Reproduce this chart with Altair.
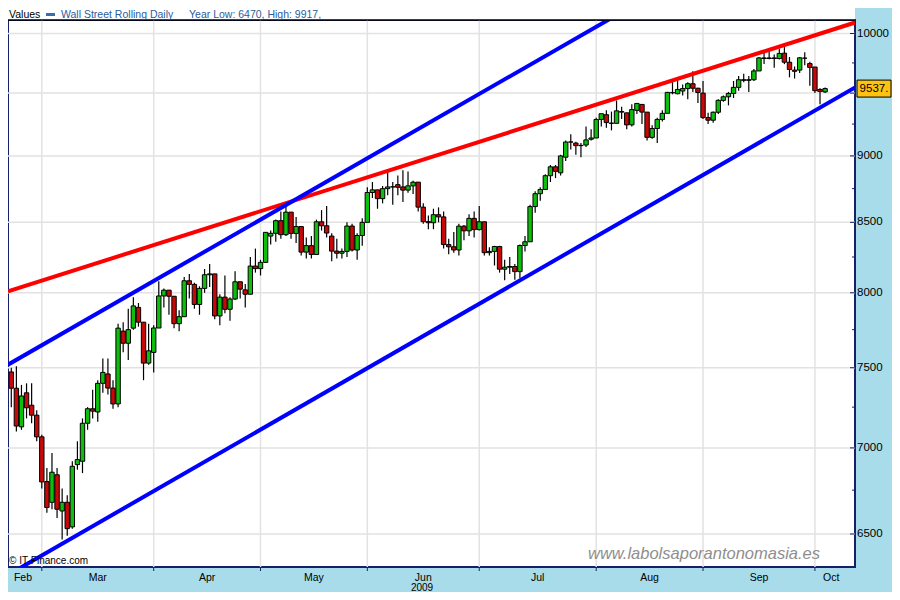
import altair as alt
import pandas as pd

# ---------------- data ----------------
opens = [7473, 7369, 7128, 7340, 7262, 7200,
         7067, 6800, 6680, 6840, 6630, 6680, 6540, 6900, 6920, 7150, 7240, 7220, 7400, 7460, 7370,
         7270, 7740, 7660, 7760, 7900, 7800, 7530,
         7600, 7761, 7978, 8018, 7976, 7790, 7837, 8083, 8058, 7920, 8030, 8125, 8131, 7842, 7970,
         7887, 7957, 8076, 8020, 7990, 8186,
         8168, 8212, 8400, 8420, 8512, 8410, 8575, 8419, 8469, 8285, 8331, 8268, 8504, 8475, 8400,
         8292, 8277, 8290, 8473, 8300, 8404,
         8500, 8721, 8741, 8675, 8750, 8763, 8780, 8763, 8739, 8771, 8799, 8612, 8505, 8497, 8556,
         8540, 8339, 8323, 8300, 8472, 8438, 8529,
         8447, 8504, 8281, 8290, 8325, 8164, 8178, 8183, 8147, 8332, 8359, 8616, 8712, 8744, 8848,
         8916, 8870, 8990, 9108, 9100, 9080, 9085, 9130,
         9140, 9287, 9325, 9258, 9256, 9350, 9340, 9244, 9360, 9408, 9346, 9145, 9215, 9287, 9336,
         9503, 9495, 9517, 9537, 9577, 9540,
         9500, 9302, 9281, 9345, 9441, 9470, 9497, 9547, 9610, 9605, 9610, 9683, 9792, 9787, 9792,
         9787, 9832, 9756, 9690, 9690, 9790, 9745,
         9716, 9530, 9510]
highs = [7500, 7510, 7390, 7400, 7400, 7230,
         7080, 6880, 6970, 6880, 6760, 6720, 6920, 7040, 7180, 7250, 7360, 7420, 7560, 7560, 7420,
         7790, 7800, 7890, 7970, 7930, 7800, 7790,
         7780, 8080, 8030, 8018, 7976, 7880, 8110, 8130, 8070, 8045, 8165, 8200, 8131, 7990, 8120,
         7970, 8150, 8076, 8060, 8250, 8310,
         8230, 8430, 8440, 8520, 8580, 8650, 8575, 8540, 8469, 8390, 8400, 8520, 8590, 8620, 8420,
         8380, 8310, 8500, 8490, 8420, 8530,
         8760, 8800, 8741, 8770, 8880, 8800, 8850, 8890, 8880, 8810, 8799, 8640, 8550, 8600, 8610,
         8580, 8380, 8430, 8490, 8480, 8560, 8580,
         8620, 8504, 8320, 8330, 8330, 8230, 8250, 8200, 8340, 8400, 8630, 8730, 8760, 8860, 8930,
         8930, 9010, 9120, 9170, 9110, 9100, 9230, 9210,
         9300, 9330, 9360, 9350, 9440, 9390, 9340, 9410, 9420, 9410, 9346, 9240, 9300, 9360, 9510,
         9600, 9630, 9570, 9590, 9680, 9544,
         9600, 9340, 9350, 9450, 9480, 9510, 9600, 9640, 9660, 9640, 9700, 9800, 9850, 9850, 9820,
         9870, 9917, 9800, 9720, 9800, 9840, 9760,
         9716, 9540, 9545]
lows = [7250, 7100, 7110, 7180, 7150, 7040,
        6760, 6620, 6640, 6590, 6470, 6490, 6530, 6870, 6850, 7110, 7180, 7160, 7340, 7330, 7240,
        7250, 7600, 7550, 7750, 7770, 7420, 7520,
        7470, 7761, 7900, 7850, 7760, 7740, 7837, 7960, 7890, 7850, 8000, 8040, 7820, 7780, 7860,
        7810, 7950, 7960, 7900, 7990, 8140,
        8120, 8210, 8340, 8360, 8380, 8400, 8380, 8350, 8260, 8240, 8240, 8268, 8440, 8390, 8220,
        8240, 8240, 8250, 8290, 8230, 8330,
        8500, 8680, 8600, 8640, 8700, 8630, 8700, 8650, 8720, 8710, 8580, 8490, 8450, 8450, 8500,
        8310, 8270, 8280, 8260, 8370, 8400, 8390,
        8440, 8260, 8260, 8190, 8140, 8087, 8130, 8090, 8100, 8290, 8359, 8570, 8660, 8740, 8800,
        8830, 8850, 8960, 9050, 9010, 8990, 9070, 9120,
        9140, 9230, 9220, 9200, 9256, 9290, 9210, 9230, 9330, 9250, 9120, 9135, 9100, 9270, 9336,
        9490, 9490, 9480, 9450, 9510, 9420,
        9290, 9250, 9260, 9330, 9430, 9400, 9460, 9520, 9590, 9510, 9600, 9683, 9740, 9780, 9710,
        9779, 9740, 9630, 9620, 9665, 9730, 9560,
        9500, 9410, 9500]
closes = [7369, 7133, 7320, 7246, 7200, 7067,
          6798, 6650, 6855, 6640, 6680, 6530, 6890, 6930, 7150, 7240, 7225, 7400, 7470, 7370, 7270,
          7760, 7660, 7750, 7910, 7800, 7530, 7610,
          7761, 7978, 8018, 7976, 7790, 7837, 8083, 8058, 7920, 8030, 8125, 8131, 7842, 7970, 7887,
          7957, 8076, 8025, 7990, 8186, 8168,
          8212, 8427, 8420, 8512, 8410, 8575, 8419, 8469, 8285, 8331, 8268, 8504, 8475, 8422, 8292,
          8277, 8290, 8473, 8300, 8404, 8500,
          8721, 8741, 8675, 8750, 8763, 8764, 8760, 8739, 8771, 8799, 8612, 8505, 8497, 8556, 8540,
          8339, 8323, 8300, 8472, 8438, 8529, 8447,
          8504, 8281, 8290, 8325, 8164, 8178, 8183, 8147, 8332, 8359, 8616, 8712, 8744, 8848, 8916,
          8881, 9000, 9108, 9109, 9080, 9082, 9125, 9140,
          9287, 9333, 9262, 9256, 9356, 9346, 9244, 9366, 9416, 9346, 9145, 9215, 9287, 9336, 9506,
          9504, 9530, 9537, 9577, 9540, 9505,
          9302, 9281, 9345, 9441, 9470, 9497, 9547, 9610, 9605, 9610, 9683, 9792, 9787, 9792, 9787,
          9830, 9756, 9695, 9680, 9793, 9790, 9712,
          9520, 9513, 9537]

# trading days shown (weekdays, Good Friday closed)
trade_days = [d for d in pd.bdate_range("2009-02-20", "2009-10-05")
              if d != pd.Timestamp("2009-04-10")]
dates = [d.strftime("%Y-%m-%d") for d in trade_days]

month_names = ["Feb", "Mar", "Apr", "May", "Jun", "Jul", "Aug", "Sep", "Oct"]
month_label_pos = [2.3, 17.0, 38.5, 59.5, 81.0, 103.5, 125.5, 147.0, 161.2]
month_starts = [6, 28, 49, 70, 92, 115, 136, 158]

# axis ticks; the 9500 label is hidden behind the last-price box in the reference
y_ticks = [6500, 7000, 7500, 8000, 8500, 9000, 9500, 10000]
y_label_vals = [6500, 7000, 7500, 8000, 8500, 9000, 10000]
y_label_text = ["6500", "7000", "7500", "8000", "8500", "9000", "10000"]
y_minor = [6750, 7250, 7750, 8250, 8750, 9250, 9750]

# trend lines (index, value) end points
red_x = [-0.65, 165.9]
red_y = [8010, 10095]
blue_up_x = [-0.65, 131.5]
blue_up_y = [7520, 10484]
blue_lo_x = [-0.65, 165.9]
blue_lo_y = [6275, 9546]

# ---------------- chart ----------------
n = len(dates)
assert n == len(opens) == len(highs) == len(lows) == len(closes)

df = pd.DataFrame({"i": list(range(n)), "date": dates, "o": opens, "h": highs,
                   "l": lows, "c": closes})
df["dir"] = ["up" if c >= o else "down" for o, c in zip(opens, closes)]

W, H = 847, 547
FONT = "Liberation Sans"
NAVY = "#16206a"
GRID = "#e2e2e2"

xs = alt.Scale(domain=[-0.646, 165.88], nice=False, zero=False, padding=0)
ys = alt.Scale(type="log", domain=[6318, 10117], nice=False, padding=0)

one = pd.DataFrame({"a": [0]})
ytick_df = pd.DataFrame({"v": y_ticks})
ylab_df = pd.DataFrame({"v": y_label_vals, "t": y_label_text})

vgrid = alt.Chart(pd.DataFrame({"m": month_starts})).mark_rule(
    color=GRID, strokeWidth=1.5).encode(x=alt.X("m:Q", scale=xs, axis=None))
hgrid = alt.Chart(ytick_df).mark_rule(color=GRID, strokeWidth=1.5).encode(
    y=alt.Y("v:Q", scale=ys, axis=None))

wicks = alt.Chart(df).mark_rule(color="black", strokeWidth=1.2).encode(
    x=alt.X("i:Q", scale=xs, axis=None),
    y=alt.Y("l:Q", scale=ys, axis=None),
    y2="h:Q")

bodies = alt.Chart(df).mark_bar(size=4.4, stroke="black", strokeWidth=1).encode(
    x=alt.X("i:Q", scale=xs, axis=None),
    y=alt.Y("o:Q", scale=ys, axis=None),
    y2="c:Q",
    color=alt.Color("dir:N", scale=alt.Scale(domain=["up", "down"],
                                             range=["#0dbf0d", "#c80808"]), legend=None))

red_df = pd.DataFrame({"x": red_x, "y": red_y})
blue_df = pd.DataFrame({"x": blue_up_x + blue_lo_x, "y": blue_up_y + blue_lo_y,
                        "g": ["up", "up", "lo", "lo"]})
red_line = alt.Chart(red_df).mark_line(color="#ff0000", strokeWidth=4, clip=True).encode(
    x=alt.X("x:Q", scale=xs, axis=None), y=alt.Y("y:Q", scale=ys, axis=None))
blue_lines = alt.Chart(blue_df).mark_line(color="#0000ff", strokeWidth=4, clip=True).encode(
    x=alt.X("x:Q", scale=xs, axis=None), y=alt.Y("y:Q", scale=ys, axis=None), detail="g:N")

major_ticks = alt.Chart(ytick_df).mark_rule(color=NAVY, strokeWidth=1).encode(
    x=alt.value(W - 5), x2=alt.value(W), y=alt.Y("v:Q", scale=ys, axis=None))
minor_ticks = alt.Chart(pd.DataFrame({"v": y_minor})).mark_rule(color=NAVY, strokeWidth=1).encode(
    x=alt.value(W - 3), x2=alt.value(W), y=alt.Y("v:Q", scale=ys, axis=None))
y_labels = alt.Chart(ylab_df).mark_text(
    font=FONT, fontSize=11.5, color="black", align="left", baseline="middle").encode(
    x=alt.value(W + 2), y=alt.Y("v:Q", scale=ys, axis=None), text="t:N")

month_ticks = alt.Chart(pd.DataFrame({"m": month_starts})).mark_rule(color=NAVY, strokeWidth=1).encode(
    x=alt.X("m:Q", scale=xs, axis=None), y=alt.value(H), y2=alt.value(H + 4))

month_labels = alt.Chart(pd.DataFrame({"p": month_label_pos, "t": month_names})).mark_text(
    font=FONT, fontSize=10.5, color="black", align="center", baseline="middle").encode(
    x=alt.X("p:Q", scale=xs, axis=None), y=alt.value(H + 10.5), text="t:N")

year_label = alt.Chart(pd.DataFrame({"t": ["2009"]})).mark_text(
    font=FONT, fontSize=10, color="black", align="center", baseline="middle").encode(
    x=alt.value(414), y=alt.value(H + 21), text="t:N")

header_bg = alt.Chart(one).mark_rect(color="white").encode(
    x=alt.value(0), x2=alt.value(W), y=alt.value(-12), y2=alt.value(0))
top_line = alt.Chart(one).mark_rule(color="black", strokeWidth=1.5).encode(
    x=alt.value(0), x2=alt.value(W), y=alt.value(0))
swatch = alt.Chart(one).mark_rect(color="#3b6bb0").encode(
    x=alt.value(38), x2=alt.value(47), y=alt.value(-7), y2=alt.value(-4))
values_txt = alt.Chart(pd.DataFrame({"t": ["Values"]})).mark_text(
    font=FONT, fontSize=10.5, color="black", align="left", baseline="middle").encode(
    x=alt.value(1), y=alt.value(-5.5), text="t:N")
series_txt = alt.Chart(pd.DataFrame({"t": ["Wall Street Rolling Daily"]})).mark_text(
    font=FONT, fontSize=10.5, color="#2b5c9e", align="left", baseline="middle").encode(
    x=alt.value(53), y=alt.value(-5.5), text="t:N")
range_txt = alt.Chart(pd.DataFrame({"t": [f"Year Low: {min(lows)}, High: {max(highs)},"]})).mark_text(
    font=FONT, fontSize=10.5, color="#2b5c9e", align="left", baseline="middle").encode(
    x=alt.value(181), y=alt.value(-5.5), text="t:N")

last_df = pd.DataFrame({"v": [closes[-1]], "t": [f"{closes[-1]}."]})
last_box = alt.Chart(last_df).mark_point(
    shape="M-1,-0.5L1,-0.5L1,0.5L-1,0.5Z", size=1156, filled=True,
    fill="#ffc20e", stroke="black", strokeWidth=1, opacity=1).encode(
    x=alt.value(W + 19), y=alt.Y("v:Q", scale=ys, axis=None))
last_txt = alt.Chart(last_df).mark_text(
    font=FONT, fontSize=11.5, color="black", align="center", baseline="middle").encode(
    x=alt.value(W + 19), y=alt.Y("v:Q", scale=ys, axis=None), text="t:N")

copy_txt = alt.Chart(pd.DataFrame({"t": ["\u00a9 IT-Finance.com"]})).mark_text(
    font=FONT, fontSize=10, color="black", align="left", baseline="middle").encode(
    x=alt.value(1), y=alt.value(541), text="t:N")
site_txt = alt.Chart(pd.DataFrame({"t": ["www.labolsaporantonomasia.es"]})).mark_text(
    font=FONT, fontSize=16.5, fontStyle="italic", color="#8e8e8e", align="left",
    baseline="middle").encode(x=alt.value(580), y=alt.value(534), text="t:N")

chart = alt.layer(
    vgrid, hgrid, wicks, bodies, red_line, blue_lines, major_ticks, minor_ticks, y_labels,
    month_ticks, month_labels, year_label, header_bg, top_line, swatch, values_txt,
    series_txt, range_txt, copy_txt, site_txt, last_box, last_txt
).properties(
    width=W, height=H,
    padding={"left": 0, "top": 12, "right": 37, "bottom": 25},
    autosize=alt.AutoSizeParams(type="none"),
    background="#a8dcea",
).configure_view(fill="white", stroke=NAVY, strokeWidth=2)

chart.save("out.html", embed_options={"renderer": "svg", "actions": False})
